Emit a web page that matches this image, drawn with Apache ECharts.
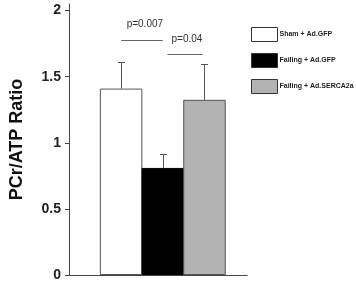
<!DOCTYPE html>
<html>
<head>
<meta charset="utf-8">
<script src="https://cdn.jsdelivr.net/npm/echarts@6/dist/echarts.min.js"></script>
<style>
html, body { margin: 0; padding: 0; background: #fff; }
#chart { width: 356px; height: 282px; }
</style>
</head>
<body>
<div id="chart"></div>
<script>
// 数据
var groups = ['Sham + Ad.GFP', 'Failing + Ad.GFP', 'Failing + Ad.SERCA2a'];
var slotPos = [1.25, 2.25, 3.25];        // bar slot on the x scale
var means = [1.41, 0.81, 1.325];
var errTop = [1.61, 0.915, 1.595];
var barColors = ['#ffffff', '#000000', '#b3b3b3'];
var yTicks = [0, 0.5, 1, 1.5, 2];

// significance brackets
var sigLabels = ['p=0.007', 'p=0.04'];
var sigFrom = [1.25, 2.36];
var sigTo = [2.25, 3.21];
var sigY = [1.78, 1.672];
var sigTextX = [1.82, 2.83];
var sigTextY = [1.90, 1.785];

var chart = document.getElementById('chart');
var myChart = echarts.init(chart);

var series = [];
for (var i = 0; i < groups.length; i++) {
    var d = [];
    d.push([slotPos[i], means[i]]);
    series.push({
        name: groups[i],
        type: 'bar',
        barWidth: 42.5,
        barGap: '-100%',
        data: d,
        itemStyle: {
            color: barColors[i],
            borderColor: i == 1 ? '#000' : '#555',
            borderWidth: 1
        },
        emphasis: { disabled: true }
    });
}

// 误差线
var errData = [];
for (var i = 0; i < groups.length; i++) errData.push([slotPos[i], means[i], errTop[i]]);
series.push({
    type: 'custom',
    silent: true,
    data: errData,
    z: 5,
    renderItem: function (params, api) {
        var lo = api.coord([api.value(0), api.value(1)]);
        var hi = api.coord([api.value(0), api.value(2)]);
        var x = Math.round(lo[0]) + 0.5;
        var style = { stroke: '#555', lineWidth: 1 };
        return {
            type: 'group',
            children: [
                { type: 'line', shape: { x1: x, y1: lo[1], x2: x, y2: hi[1] }, style: style },
                { type: 'line', shape: { x1: x - 3.5, y1: Math.round(hi[1]) + 0.5, x2: x + 3.5, y2: Math.round(hi[1]) + 0.5 }, style: style }
            ]
        };
    }
});

// p值
var sigData = [];
for (var i = 0; i < sigLabels.length; i++) sigData.push([sigFrom[i], sigTo[i], sigY[i], sigTextX[i], sigTextY[i], sigLabels[i]]);
series.push({
    type: 'custom',
    silent: true,
    data: sigData,
    z: 5,
    renderItem: function (params, api) {
        var a = api.coord([api.value(0), api.value(2)]);
        var b = api.coord([api.value(1), api.value(2)]);
        var t = api.coord([api.value(3), api.value(4)]);
        var y = Math.round(a[1]) + 0.5;
        return {
            type: 'group',
            children: [
                { type: 'line', shape: { x1: a[0], y1: y, x2: b[0], y2: y }, style: { stroke: '#666', lineWidth: 1 } },
                { type: 'text', x: t[0], y: t[1], style: {
                    text: sigLabels[params.dataIndex], fill: '#333',
                    font: '10px "Liberation Sans", Arial, sans-serif',
                    align: 'center', verticalAlign: 'middle'
                } }
            ]
        };
    }
});

var option = {
    animation: false,
    backgroundColor: '#fff',
    grid: { left: 66, right: 109, top: 4, bottom: 4.5 },
    legend: {
        data: groups,
        orient: 'vertical',
        left: 246,
        top: 22,
        icon: 'rect',
        itemWidth: 26,
        itemHeight: 14,
        itemGap: 11,
        selectedMode: false,
        itemStyle: { borderColor: '#333', borderWidth: 1 },
        textStyle: {
            fontFamily: '"Liberation Sans", Arial, sans-serif',
            fontSize: 7, fontWeight: 'bold', color: '#222', padding: [0, 0, 0, -3]
        }
    },
    xAxis: {
        type: 'value',
        min: 0,
        max: 4.27,
        axisLine: { show: true, onZero: false, lineStyle: { color: '#444', width: 1 } },
        axisTick: { show: false },
        axisLabel: { show: false },
        splitLine: { show: false }
    },
    yAxis: {
        type: 'value',
        min: 0,
        max: 2.05,
        name: 'PCr/ATP Ratio',
        nameLocation: 'middle',
        nameRotate: 90,
        nameGap: 43,
        nameTextStyle: {
            fontFamily: '"Liberation Sans", Arial, sans-serif',
            fontSize: 18, fontWeight: 'bold', color: '#111'
        },
        axisLine: { show: true, lineStyle: { color: '#444', width: 1 } },
        axisTick: { show: true, length: 4, customValues: yTicks, lineStyle: { color: '#444' } },
        axisLabel: {
            customValues: yTicks,
            margin: 8,
            fontFamily: '"Liberation Sans", Arial, sans-serif',
            fontSize: 14, fontWeight: 'bold', color: '#222'
        },
        splitLine: { show: false }
    },
    series: series
};
myChart.setOption(option);
</script>
</body>
</html>
